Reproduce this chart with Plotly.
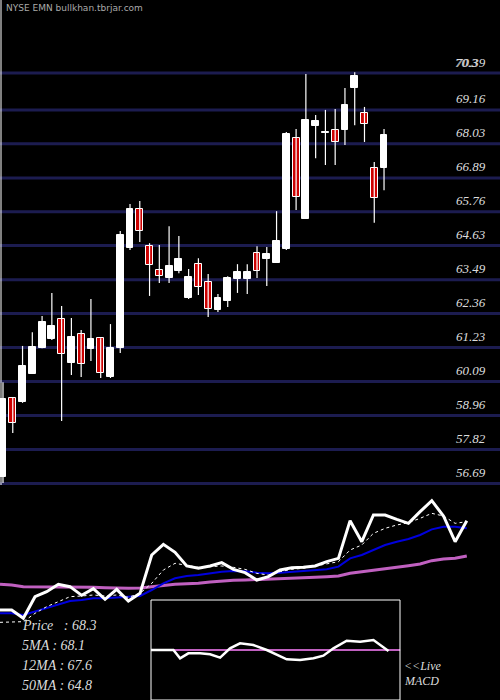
import plotly.graph_objects as go

# ---- candle data (40 sessions) ----
opens  = [56.9,59.54,59.41,60.34,61.21,61.51,62.18,60.71,61.68,61.17,61.54,60.24,61.21,64.55,65.85,64.61,63.81,63.55,63.78,62.88,
          64.01,63.41,62.48,62.78,63.51,63.51,64.38,64.18,64.05,64.51,68.22,65.52,68.62,68.39,68.49,68.49,69.89,69.06,67.22,67.22]
closes = [59.51,58.70,60.61,61.25,62.08,61.94,61.01,61.58,60.68,61.51,60.38,61.21,64.98,65.85,65.12,63.98,63.61,63.95,64.18,63.58,
          63.25,62.51,62.88,63.55,63.75,63.75,63.78,64.35,64.78,68.35,66.25,68.82,68.79,68.42,68.09,69.32,70.29,68.69,66.22,68.32]
highs  = [60.07,59.54,61.28,61.74,62.28,63.05,62.61,62.21,61.81,62.85,61.54,62.01,65.12,66.02,66.12,64.71,64.65,65.28,64.95,63.85,
          64.21,63.68,63.01,63.61,64.01,64.01,64.61,64.58,65.78,68.42,68.52,70.36,68.99,69.16,69.19,69.89,70.42,69.26,67.42,68.52]
lows   = [56.7,58.37,59.38,60.34,61.2,61.48,58.77,60.31,60.24,60.78,60.21,60.21,61.04,64.48,64.75,62.95,63.38,63.38,63.71,62.85,
          62.98,62.25,62.41,62.58,63.05,63.01,63.55,63.28,64.05,64.48,65.82,65.52,67.55,67.32,67.32,67.99,68.65,68.09,65.39,66.48]
grid_levels = [70.39,69.16,68.03,66.89,65.76,64.63,63.49,62.36,61.23,60.09,58.96,57.82,56.69]

# ---- lower panel indicators (arbitrary units) ----
price_line = [63-v/10 for v in [360,360,385,320,305,283,290,316,296,328,298,333,310,195,163,187,228,235,228,218,238,248,270,260,240,233,232,228,215,205,92,155,75,75,88,100,65,32,78,155,92]]
ma5  = [63-v/10 for v in [397,396,395,370,350,335,320,318,315,318,315,322,310,280,240,220,225,232,230,228,232,238,250,255,245,238,235,228,220,215,180,165,130,115,105,98,85,70,78,100,95]]
ma12 = [63-v/10 for v in [370,370,375,365,355,345,333,330,325,325,323,322,318,300,280,265,258,255,250,245,243,244,248,250,248,245,242,240,238,230,205,195,180,165,155,147,135,118,110,110,115]]
ma50 = [63-v/10 for v in [283,285,290,290,290,290,290,292,292,293,295,295,294,290,285,283,281,280,276,273,271,270,269,268,267,266,264,262,260,258,250,246,242,236,232,227,222,212,207,205,198]]
macd_x = [12.94,14.86,15.43,16.14,17.14,18.0,18.86,19.71,20.57,21.71,22.86,23.71,24.57,25.71,26.86,27.71,28.57,29.71,30.86,32.0,33.29]
macd   = [63-v/10 for v in [480,480,505,490,490,493,503,475,460,465,480,493,508,510,505,497,475,452,455,450,483]]
macd_signal_level = 63-480/10

fig = go.Figure()
idx = list(range(len(closes)))
wx, wy = [], []
for i in idx:
    wx += [i, i, None]; wy += [lows[i], highs[i], None]
fig.add_trace(go.Scatter(x=wx, y=wy, mode="lines", line=dict(color="white", width=1.2), xaxis="x", yaxis="y"))
colors = ["white" if c >= o else "#cc0000" for o, c in zip(opens, closes)]
fig.add_trace(go.Bar(x=idx, base=[min(o, c) for o, c in zip(opens, closes)],
                     y=[max(abs(c - o), 0.03) for o, c in zip(opens, closes)],
                     width=0.7, marker=dict(color=colors, line=dict(color="white", width=1)),
                     xaxis="x", yaxis="y"))

j = list(range(len(price_line)))
fig.add_trace(go.Scatter(x=j, y=ma50, mode="lines", line=dict(color="#c060c0", width=3), xaxis="x2", yaxis="y2"))
fig.add_trace(go.Scatter(x=j, y=ma12, mode="lines", line=dict(color="#0000dd", width=2), xaxis="x2", yaxis="y2"))
fig.add_trace(go.Scatter(x=j, y=ma5, mode="lines", line=dict(color="white", width=1, dash="dot"), xaxis="x2", yaxis="y2"))
fig.add_trace(go.Scatter(x=j, y=price_line, mode="lines", line=dict(color="white", width=3), xaxis="x2", yaxis="y2"))
fig.add_trace(go.Scatter(x=[12.94, 34.29], y=[macd_signal_level]*2, mode="lines", line=dict(color="#c060c0", width=2), xaxis="x2", yaxis="y2"))
fig.add_trace(go.Scatter(x=macd_x, y=macd, mode="lines", line=dict(color="white", width=2.5), xaxis="x2", yaxis="y2"))

shapes = []
for g in grid_levels:
    shapes.append(dict(type="line", xref="paper", yref="y", x0=0, x1=1, y0=g, y1=g,
                       line=dict(color="#1c1c50", width=3), layer="below"))
shapes.append(dict(type="line", xref="paper", yref="paper", x0=0.002, x1=0.002, y0=1-485/700, y1=1,
                   line=dict(color="white", width=1)))
shapes.append(dict(type="rect", xref="paper", yref="paper", x0=151/500, x1=400/500, y0=0, y1=100/700,
                   line=dict(color="white", width=1)))

F = "Liberation Serif"
ann = [dict(text="NYSE EMN bullkhan.tbrjar.com", x=4/500, y=1-8/700, xref="paper", yref="paper",
            xanchor="left", yanchor="middle", showarrow=False, font=dict(family="DejaVu Sans", size=9, color="#aaaaaa"))]
for g in grid_levels:
    ann.append(dict(text="<i>%.2f</i>" % g, x=488/500, y=g, xref="paper", yref="y", yshift=11,
                    xanchor="right", yanchor="middle", showarrow=False, font=dict(family=F, size=13, color="#dddddd")))
ann.append(dict(text="<i>70.3</i>", x=480/500, y=grid_levels[0], xref="paper", yref="y", yshift=11,
                xanchor="right", yanchor="middle", showarrow=False, font=dict(family=F, size=13, color="#dddddd")))
labels = ["Price   : 68.3", "5MA : 68.1", "12MA : 67.6", "50MA : 64.8"]
for k, t in enumerate(labels):
    ann.append(dict(text="<i>%s</i>" % t, x=20/500, y=1-(625+20*k)/700, xref="paper", yref="paper",
                    xanchor="left", yanchor="middle", showarrow=False, font=dict(family=F, size=14, color="#dddddd")))
ann.append(dict(text="<i>&lt;&lt;Live</i>", x=402/500, y=1-666/700, xref="paper", yref="paper",
                xanchor="left", yanchor="middle", showarrow=False, font=dict(family=F, size=12, color="#dddddd")))
ann.append(dict(text="<i>MACD</i>", x=402/500, y=1-681/700, xref="paper", yref="paper",
                xanchor="left", yanchor="middle", showarrow=False, font=dict(family=F, size=12, color="#dddddd")))

ax = dict(showgrid=False, zeroline=False, showticklabels=False, fixedrange=True)
fig.update_layout(
    width=500, height=700, margin=dict(l=0, r=0, t=0, b=0),
    paper_bgcolor="black", plot_bgcolor="black", showlegend=False, bargap=0,
    xaxis=dict(ax, domain=[0, 1], range=[-3/9.77, 497/9.77]),
    yaxis=dict(ax, domain=[0.3, 1], range=[56.47, 72.83]),
    xaxis2=dict(ax, domain=[0, 1], range=[0, 500/11.67], anchor="y2"),
    yaxis2=dict(ax, domain=[0, 0.3], range=[0, 63], anchor="x2"),
    shapes=shapes, annotations=ann,
)
fig.write_html("out.html", config={"displayModeBar": False},
               post_script="document.body.style.margin='0';document.body.style.overflow='hidden';document.body.style.background='black';")
